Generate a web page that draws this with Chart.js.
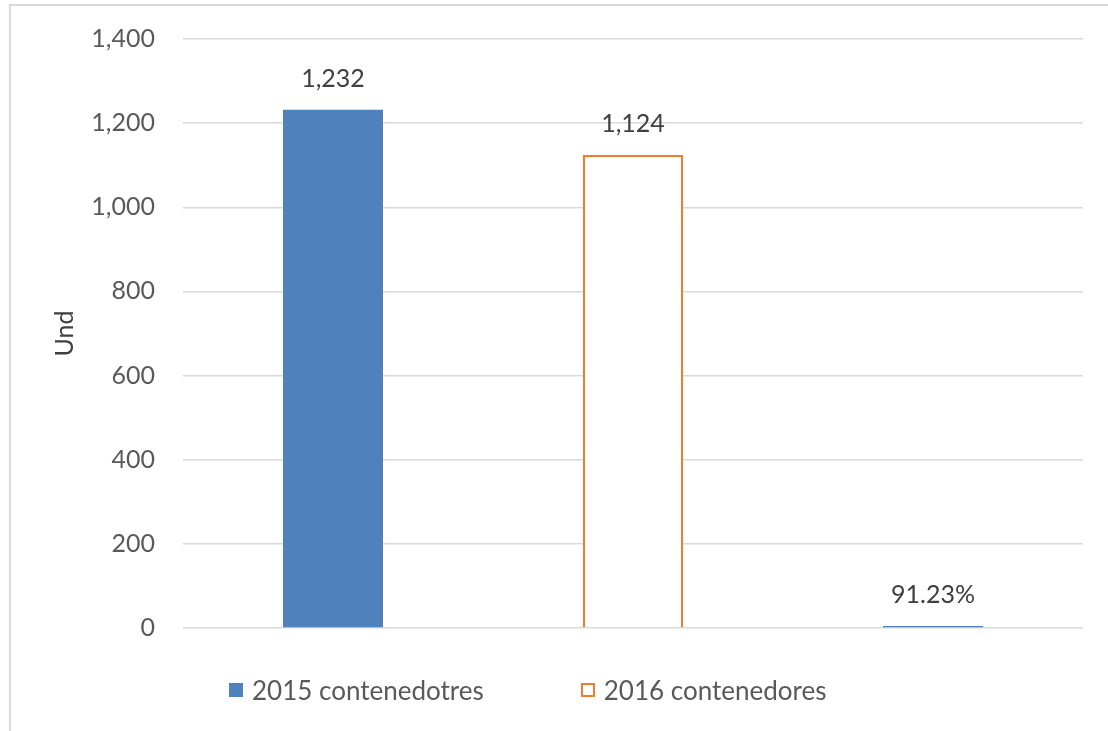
<!DOCTYPE html>
<html>
<head>
<meta charset="utf-8">
<script src="https://cdn.jsdelivr.net/npm/chart.js@4.4.0/dist/chart.umd.min.js"></script>
<style>
  html, body { margin: 0; padding: 0; background: #fff; }
  #wrap { position: relative; width: 1108px; height: 731px; overflow: hidden; }
  #frame { position: absolute; left: 9px; top: 4px; width: 1200px; height: 800px;
           border-left: 2px solid #d9d9d9; border-top: 2px solid #d9d9d9; }
  #chart { position: absolute; left: 0; top: 0; }
  #legend { position: absolute; left: 229px; top: 674px; display: flex; gap: 97px;
            font-family: Lato, sans-serif; font-size: 26px; color: #595959; }
  #legend .item { display: flex; align-items: center; }
  #legend .box { width: 14px; height: 14px; box-sizing: border-box; margin-right: 9px; }
</style>
</head>
<body>
<div id="wrap">
  <div id="frame"></div>
  <canvas id="chart" width="1108" height="731"></canvas>
  <div id="legend"></div>
</div>
<script>
const categories = [''];
const seriesNames = ['2015 contenedotres', '2016 contenedores', ''];
const seriesValues = [[1232], [1124], [0.9123]];
const seriesIsPercent = [false, false, true];
const yTicks = [0, 200, 400, 600, 800, 1000, 1200, 1400];

const fills = ['#4f81bd', '#ffffff', '#4f81bd'];
const borders = ['#4f81bd', '#ed7d31', '#4f81bd'];
const FONT = 'Lato, sans-serif';

function fmtValue(v, pct) {
  if (pct) return (v * 100).toFixed(2) + '%';
  return v.toLocaleString('en-US');
}

const valueLabels = {
  id: 'valueLabels',
  afterDatasetsDraw(chart) {
    const ctx = chart.ctx;
    ctx.save();
    ctx.font = '25px ' + FONT;
    ctx.fillStyle = '#404040';
    ctx.textAlign = 'center';
    ctx.textBaseline = 'middle';
    chart.data.datasets.forEach((ds, i) => {
      chart.getDatasetMeta(i).data.forEach((bar, j) => {
        ctx.fillText(fmtValue(ds.data[j], ds.isPercent), bar.x, bar.y - 31);
      });
    });
    ctx.restore();
  }
};

const datasets = seriesNames.map((name, i) => ({
  label: name,
  data: seriesValues[i],
  isPercent: seriesIsPercent[i],
  backgroundColor: fills[i],
  borderColor: borders[i],
  borderWidth: i === 1 ? 2 : 0,
  minBarLength: 2,
  categoryPercentage: 1,
  barPercentage: 1 / 3
}));

const chart = new Chart(document.getElementById('chart'), {
  type: 'bar',
  data: { labels: categories, datasets: datasets },
  options: {
    responsive: false,
    animation: false,
    locale: 'en-US',
    layout: { padding: { left: 13, right: 25, top: 39, bottom: 103 } },
    plugins: { legend: { display: false }, tooltip: { enabled: false } },
    scales: {
      x: { display: false },
      y: {
        min: 0,
        max: 1400,
        afterBuildTicks: (axis) => { axis.ticks = yTicks.map(v => ({ value: v })); },
        afterFit: (axis) => { axis.width = 170; axis.paddingTop = 0; axis.paddingBottom = 0; },
        border: { display: false },
        grid: { color: '#d9d9d9', lineWidth: 1.5, drawTicks: false },
        ticks: { padding: 28, color: '#595959', font: { family: FONT, size: 25 } },
        title: { display: true, text: 'Und', color: '#404040',
                 font: { family: FONT, size: 25 }, padding: { top: 37, bottom: 0 } }
      }
    }
  },
  plugins: [valueLabels]
});

// legend drawn as html from the chart datasets
const legend = document.getElementById('legend');
chart.data.datasets.forEach(ds => {
  if (!ds.label) return;
  const item = document.createElement('div');
  item.className = 'item';
  const box = document.createElement('span');
  box.className = 'box';
  box.style.background = ds.backgroundColor;
  box.style.border = '2px solid ' + ds.borderColor;
  const txt = document.createElement('span');
  txt.textContent = ds.label;
  item.appendChild(box);
  item.appendChild(txt);
  legend.appendChild(item);
});
</script>
</body>
</html>
